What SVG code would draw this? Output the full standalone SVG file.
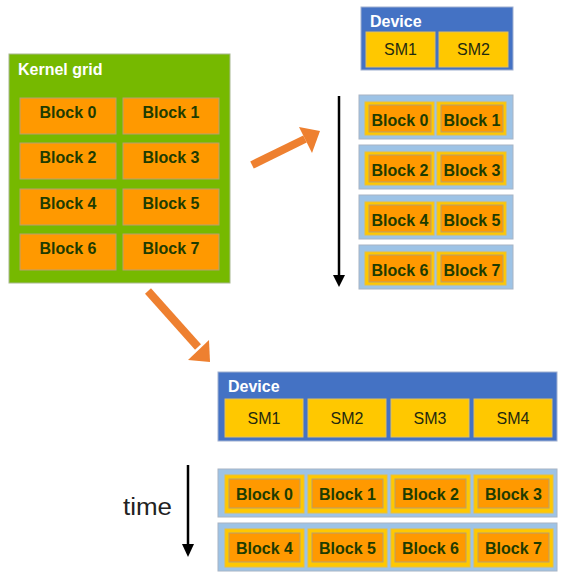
<svg xmlns="http://www.w3.org/2000/svg" width="564" height="577" viewBox="0 0 564 577">
<style>
.grid{fill:#76B900;stroke:#a8b890;stroke-width:1}
.blk{fill:#FF9900;stroke:#b8a070;stroke-width:1}
.dev{fill:#4472C4;stroke:#a0b0d0;stroke-width:1}
.sm{fill:#FFC800;stroke:#e0c060;stroke-width:1}
.row{fill:#9DC3E6;stroke:#a8b4c4;stroke-width:1}
.ys{fill:#FFC800;stroke:#e8c040;stroke-width:1}
.bt{font-family:"Liberation Sans",Arial,sans-serif;font-weight:bold;font-size:16px;fill:#1E3C00;text-anchor:middle}
.wt{font-family:"Liberation Sans",Arial,sans-serif;font-weight:bold;font-size:16px;fill:#ffffff}
.st{font-family:"Liberation Sans",Arial,sans-serif;font-size:16px;fill:#1f2a10;text-anchor:middle}
.oa{fill:#EE8030}
</style>

<g id="kernel-grid">
  <rect class="grid" x="9" y="54" width="221" height="229"/>
  <text class="wt" x="18" y="75" font-size="16.5">Kernel grid</text>
  <rect class="blk" x="20" y="98" width="96" height="36"/><text class="bt" x="68" y="118">Block 0</text>
  <rect class="blk" x="123" y="98" width="96" height="36"/><text class="bt" x="171" y="118">Block 1</text>
  <rect class="blk" x="20" y="143" width="96" height="36"/><text class="bt" x="68" y="163">Block 2</text>
  <rect class="blk" x="123" y="143" width="96" height="36"/><text class="bt" x="171" y="163">Block 3</text>
  <rect class="blk" x="20" y="189" width="96" height="36"/><text class="bt" x="68" y="209">Block 4</text>
  <rect class="blk" x="123" y="189" width="96" height="36"/><text class="bt" x="171" y="209">Block 5</text>
  <rect class="blk" x="20" y="234" width="96" height="36"/><text class="bt" x="68" y="254">Block 6</text>
  <rect class="blk" x="123" y="234" width="96" height="36"/><text class="bt" x="171" y="254">Block 7</text>
</g>

<g id="device-2sm">
  <rect class="dev" x="361" y="7" width="152" height="63"/>
  <text class="wt" x="370" y="27">Device</text>
  <rect class="sm" x="366" y="32" width="69" height="35"/><text class="st" x="400.5" y="55">SM1</text>
  <rect class="sm" x="439" y="32" width="69" height="35"/><text class="st" x="473.5" y="55">SM2</text>
</g>

<g id="schedule-2sm">
  <rect class="row" x="359" y="95" width="154" height="44"/>
  <rect class="ys" x="365" y="102" width="69" height="33"/><rect class="blk" x="369" y="105" width="62" height="27"/><text class="bt" x="400" y="126">Block 0</text>
  <rect class="ys" x="437" y="102" width="69" height="33"/><rect class="blk" x="441" y="105" width="62" height="27"/><text class="bt" x="472" y="126">Block 1</text>

  <rect class="row" x="359" y="145" width="154" height="44"/>
  <rect class="ys" x="365" y="152" width="69" height="33"/><rect class="blk" x="369" y="155" width="62" height="27"/><text class="bt" x="400" y="176">Block 2</text>
  <rect class="ys" x="437" y="152" width="69" height="33"/><rect class="blk" x="441" y="155" width="62" height="27"/><text class="bt" x="472" y="176">Block 3</text>

  <rect class="row" x="359" y="195" width="154" height="44"/>
  <rect class="ys" x="365" y="202" width="69" height="33"/><rect class="blk" x="369" y="205" width="62" height="27"/><text class="bt" x="400" y="226">Block 4</text>
  <rect class="ys" x="437" y="202" width="69" height="33"/><rect class="blk" x="441" y="205" width="62" height="27"/><text class="bt" x="472" y="226">Block 5</text>

  <rect class="row" x="359" y="245" width="154" height="44"/>
  <rect class="ys" x="365" y="252" width="69" height="33"/><rect class="blk" x="369" y="255" width="62" height="27"/><text class="bt" x="400" y="276">Block 6</text>
  <rect class="ys" x="437" y="252" width="69" height="33"/><rect class="blk" x="441" y="255" width="62" height="27"/><text class="bt" x="472" y="276">Block 7</text>
</g>

<g id="device-4sm">
  <rect class="dev" x="218" y="372" width="339" height="69"/>
  <text class="wt" x="228" y="392">Device</text>
  <rect class="sm" x="225" y="399" width="78" height="38"/><text class="st" x="264" y="424" font-size="17">SM1</text>
  <rect class="sm" x="308" y="399" width="78" height="38"/><text class="st" x="347" y="424" font-size="17">SM2</text>
  <rect class="sm" x="391" y="399" width="78" height="38"/><text class="st" x="430" y="424" font-size="17">SM3</text>
  <rect class="sm" x="474" y="399" width="78" height="38"/><text class="st" x="513" y="424" font-size="17">SM4</text>
</g>

<g id="schedule-4sm">
  <rect class="row" x="218" y="469" width="339" height="48"/>
  <rect class="ys" x="225" y="475" width="79" height="38"/><rect class="blk" x="229" y="479" width="71" height="29"/><text class="bt" x="264.5" y="500">Block 0</text>
  <rect class="ys" x="308" y="475" width="79" height="38"/><rect class="blk" x="312" y="479" width="71" height="29"/><text class="bt" x="347.5" y="500">Block 1</text>
  <rect class="ys" x="391" y="475" width="79" height="38"/><rect class="blk" x="395" y="479" width="71" height="29"/><text class="bt" x="430.5" y="500">Block 2</text>
  <rect class="ys" x="474" y="475" width="79" height="38"/><rect class="blk" x="478" y="479" width="71" height="29"/><text class="bt" x="513.5" y="500">Block 3</text>

  <rect class="row" x="218" y="523" width="339" height="48"/>
  <rect class="ys" x="225" y="529" width="79" height="38"/><rect class="blk" x="229" y="533" width="71" height="29"/><text class="bt" x="264.5" y="554">Block 4</text>
  <rect class="ys" x="308" y="529" width="79" height="38"/><rect class="blk" x="312" y="533" width="71" height="29"/><text class="bt" x="347.5" y="554">Block 5</text>
  <rect class="ys" x="391" y="529" width="79" height="38"/><rect class="blk" x="395" y="533" width="71" height="29"/><text class="bt" x="430.5" y="554">Block 6</text>
  <rect class="ys" x="474" y="529" width="79" height="38"/><rect class="blk" x="478" y="533" width="71" height="29"/><text class="bt" x="513.5" y="554">Block 7</text>
</g>

<g id="time-label">
  <text x="123" y="515" font-family="'Liberation Sans',Arial,sans-serif" font-size="23" fill="#222" textLength="49" lengthAdjust="spacingAndGlyphs">time</text>
</g>

<g id="connectors">
  <line x1="252" y1="165" x2="305" y2="139" stroke="#EE8030" stroke-width="8"/>
  <polygon class="oa" points="320,131 299,127 312,153"/>
  <line x1="148" y1="291" x2="198" y2="347" stroke="#EE8030" stroke-width="8"/>
  <polygon class="oa" points="210,362 188,360 209,340"/>
  <line x1="339" y1="96" x2="339" y2="276" stroke="#000" stroke-width="2.5"/>
  <polygon points="339,287 333,275 345,275" fill="#000"/>
  <line x1="188" y1="465" x2="188" y2="546" stroke="#000" stroke-width="2.5"/>
  <polygon points="188,557 182,544 194,544" fill="#000"/>
</g>
</svg>
